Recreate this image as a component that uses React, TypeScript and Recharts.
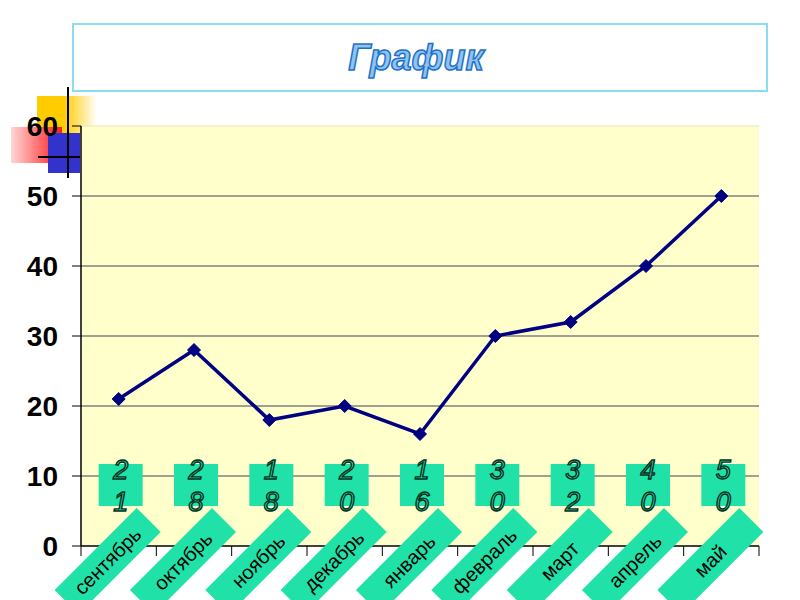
import { LineChart, Line, XAxis, YAxis, CartesianGrid, LabelList, ReferenceLine } from 'recharts'

const months = ['сентябрь', 'октябрь', 'ноябрь', 'декабрь', 'январь', 'февраль', 'март', 'апрель', 'май']
const values = [21, 28, 18, 20, 16, 30, 32, 40, 50]
const yTicks = [0, 10, 20, 30, 40, 50, 60]
const gridValues = [10, 20, 30, 40, 50]

const data = months.map((month, i) => ({ month, value: values[i] }))

const FONT = '"Liberation Sans", Arial, sans-serif'
const GREEN = '#20e2a8'
const NAVY = '#000080'

// plot area geometry (matches the chart margins below)
const PLOT_LEFT = 81
const PLOT_RIGHT = 759
const PLOT_BOTTOM = 546
const BAND = (PLOT_RIGHT - PLOT_LEFT) / months.length
const LABEL_TOP = 464

function Diamond(props: any) {
  const { cx, cy } = props
  if (cx == null || cy == null) return null
  const r = 6.5
  return (
    <polygon
      points={`${cx},${cy - r} ${cx + r},${cy} ${cx},${cy + r} ${cx - r},${cy}`}
      fill={NAVY}
      stroke={NAVY}
    />
  )
}

function MonthTick(props: any) {
  const { x, payload, index } = props
  const cx = x - 11
  const cy = 561
  const last = index === months.length - 1
  return (
    <g>
      <line x1={x - BAND / 2} x2={x - BAND / 2} y1={PLOT_BOTTOM} y2={PLOT_BOTTOM + 10} stroke="#000" />
      {last && <line x1={x + BAND / 2} x2={x + BAND / 2} y1={PLOT_BOTTOM} y2={PLOT_BOTTOM + 10} stroke="#000" />}
      <g transform={`translate(${cx},${cy}) rotate(-45)`}>
        <rect x={-58} y={-17} width={116} height={34} fill={GREEN} />
        <text x={0} y={0} dy="0.35em" textAnchor="middle" fontFamily={FONT} fontSize={20} fill="#000">
          {payload.value}
        </text>
      </g>
    </g>
  )
}

function ValueLabel(props: any) {
  const { x, value } = props
  const digits = String(value).split('')
  const cx = x + 2
  return (
    <g>
      <rect x={cx - 22} y={LABEL_TOP} width={44} height={42} fill={GREEN} />
      {digits.map((d, i) => (
        <text
          key={i}
          x={cx}
          y={479 + i * 32}
          textAnchor="middle"
          fontFamily={FONT}
          fontStyle="italic"
          fontSize={27}
          fill={GREEN}
          stroke="#08301f"
          strokeWidth={1.4}
        >
          {d}
        </text>
      ))}
    </g>
  )
}

export default function App() {
  return (
    <div style={{ position: 'absolute', left: 0, top: 0, width: 800, height: 600, background: '#fff', fontFamily: FONT, overflow: 'hidden' }}>
      {/* decorative squares */}
      <div style={{ position: 'absolute', left: 37, top: 96, width: 60, height: 37, background: 'linear-gradient(to right, #ffcc00 45%, rgba(255,255,255,0))' }} />
      <div style={{ position: 'absolute', left: 11, top: 127, width: 51, height: 36, background: 'linear-gradient(to right, #ffd6d6, #ff1a1a)' }} />
      <div style={{ position: 'absolute', left: 48, top: 133, width: 32, height: 40, background: '#3333cc' }} />
      <div style={{ position: 'absolute', left: 67, top: 87, width: 2, height: 91, background: '#000' }} />
      <div style={{ position: 'absolute', left: 38, top: 156, width: 42, height: 2, background: '#000' }} />

      {/* title box */}
      <div
        style={{
          position: 'absolute',
          left: 72,
          top: 23,
          width: 692,
          height: 65,
          border: '2px solid #8cdcef',
          display: 'flex',
          alignItems: 'center',
          justifyContent: 'center',
        }}
      >
        <span
          style={{
            fontFamily: FONT,
            fontSize: 36,
            fontWeight: 'bold',
            fontStyle: 'italic',
            color: '#8fc3f0',
            WebkitTextStroke: '1.5px #1f72c8',
            marginLeft: -8,
          }}
        >
          График
        </span>
      </div>

      <div style={{ position: 'absolute', left: 0, top: 0 }}>
        <LineChart width={800} height={600} data={data} margin={{ top: 126, right: 41, bottom: 0, left: 0 }}>
          <CartesianGrid fill="#ffffcc" vertical={false} horizontalValues={gridValues} stroke="#808080" strokeWidth={1.5} />
          <ReferenceLine y={60} stroke="#e6e6c0" />
          <XAxis
            dataKey="month"
            scale="band"
            height={54}
            tickLine={false}
            axisLine={{ stroke: '#000', strokeWidth: 1.5 }}
            tick={<MonthTick />}
            interval={0}
          />
          <YAxis
            width={81}
            domain={[0, 60]}
            ticks={yTicks}
            interval={0}
            tickSize={9}
            tickMargin={14}
            tickLine={{ stroke: '#000' }}
            axisLine={{ stroke: '#000', strokeWidth: 1.5 }}
            tick={{ fill: '#000', fontFamily: FONT, fontSize: 28, fontWeight: 'bold' }}
          />
          <YAxis yAxisId="right" orientation="right" width={0} tick={false} tickLine={false} axisLine={{ stroke: '#808080' }} />
          <Line
            type="linear"
            dataKey="value"
            stroke={NAVY}
            strokeWidth={3.5}
            dot={<Diamond />}
            activeDot={false}
            isAnimationActive={false}
          >
            <LabelList dataKey="value" content={<ValueLabel />} />
          </Line>
        </LineChart>
      </div>
    </div>
  )
}
